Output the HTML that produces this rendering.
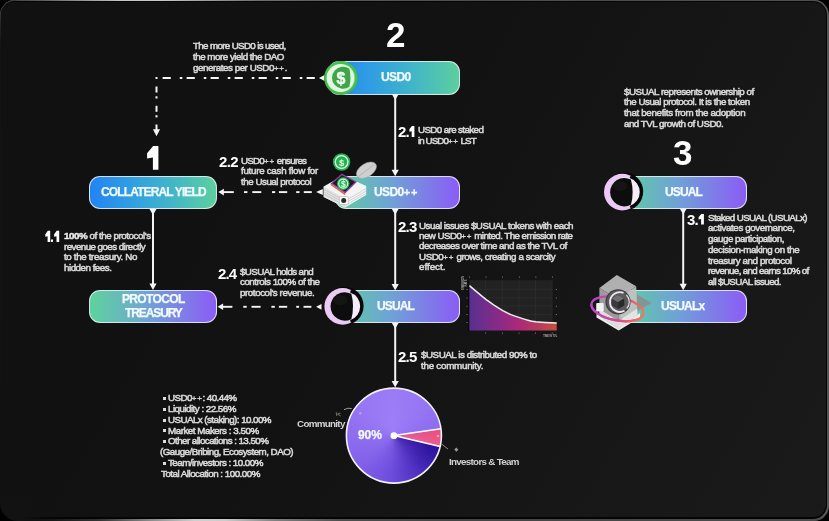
<!DOCTYPE html>
<html><head><meta charset="utf-8">
<style>
*{margin:0;padding:0;box-sizing:border-box}
html,body{width:829px;height:521px;background:#000;overflow:hidden}
body{position:relative;font-family:"Liberation Sans",sans-serif}
#rim{position:absolute;left:0;top:0;width:829px;height:521px;border-radius:15px;overflow:hidden;background:#555}
#rim .a{position:absolute;left:0;top:0;width:830px;height:4px;background:linear-gradient(90deg,#3a3a3a 0px,#5a5a5a 40px,#9a9a9a 85px,#c4c4c4 120px,#cacaca 160px,#a0a0a0 205px,#6e6e6e 260px,#585858 340px,#4e4e4e 500px,#505050 829px)}
#rim .b{position:absolute;left:0;bottom:0;width:830px;height:4px;background:linear-gradient(90deg,#0a0a0a 0px,#161616 50px,#343434 100px,#8a8a8a 150px,#cfcfcf 195px,#cccccc 225px,#808080 275px,#4e4e4e 340px,#444 450px,#4c4c4c 829px)}
#rim .l{position:absolute;left:0;top:0;width:16px;height:521px;background:linear-gradient(180deg,#3c3c3c 0px,#383838 12px,#262626 24px,#141414 45px,#121212 100%)}
#dark{position:absolute;left:0.7px;top:1.4px;width:826.2px;height:517.3px;border-radius:14px;background:#050505}
#bg{position:absolute;left:1.4px;top:2.4px;width:824.2px;height:514.8px;border-radius:13px;
 background:linear-gradient(120deg,#111 0%,#121212 45%,#171717 75%,#1a1a1a 100%)}
.t{position:absolute;color:#d8d8d8;font-size:9.8px;line-height:10px;-webkit-text-stroke:0.55px #d8d8d8;white-space:nowrap;will-change:transform}
.t b{color:#fff}
.pq{font-size:11px;letter-spacing:0.9px}
.pp{font-size:8px;letter-spacing:0.7px;-webkit-text-stroke:0.35px #d8d8d8}
.bt{position:absolute;color:#f4fbff;font-size:12px;line-height:10px;font-weight:bold;-webkit-text-stroke:0.25px #f4fbff;white-space:nowrap;will-change:transform}
.tb{position:absolute;color:#d2d2d2;font-size:9.8px;line-height:10px;font-weight:bold;white-space:nowrap;will-change:transform}
.bul{position:absolute;width:3px;height:3px;background:#dcdcdc}
.n{position:absolute;color:#fff;font-weight:bold;white-space:nowrap;will-change:transform}
.big{position:absolute;color:#fff;font-weight:bold;white-space:nowrap;will-change:transform;font-size:35px;line-height:10px}
.sn{position:absolute;color:#fff;font-weight:bold;white-space:nowrap;will-change:transform;font-size:15px;line-height:10px}
.btn{position:absolute;border-radius:11px;border:1px solid rgba(235,240,245,0.85);color:#f2f6fa;font-weight:bold;font-size:12px;text-align:center;white-space:nowrap}
.bg1{background:linear-gradient(90deg,#2284f3 0%,#2f9ce4 30%,#3fb2cc 60%,#5ccf9f 100%)}
.bg2{background:linear-gradient(90deg,#5dcfa0 0%,#6fa2d6 45%,#8b5cf6 100%)}
.bg3{background:linear-gradient(90deg,#5dd39c 0%,#70a4d4 45%,#8b5cf6 100%)}
svg{position:absolute;left:0;top:0;will-change:transform}
</style></head>
<body>
<!--NONTEXT-->
<div id="rim"><div class="a"></div><div class="b"></div><div class="l"></div></div><div id="dark"></div><div id="bg"></div><div style="position:absolute;left:0;top:500px;width:60px;height:21px;background:linear-gradient(90deg,#121212 0px,#121212 22px,rgba(18,18,18,0) 50px)"></div>

<!-- buttons -->
<div class="btn bg1" style="left:328px;top:61.2px;width:132.1px;height:33.7px"></div>
<div class="btn bg1" style="left:88.9px;top:175.6px;width:128.5px;height:33.3px"></div>
<div class="btn bg2" style="left:335px;top:175.6px;width:125.1px;height:33.3px"></div>
<div class="btn bg2" style="left:335px;top:290.2px;width:125px;height:33.3px"></div>
<div class="btn bg3" style="left:88.9px;top:290px;width:128.6px;height:33.4px"></div>
<div class="btn bg2" style="left:620px;top:175.6px;width:127.3px;height:33.3px"></div>
<div class="btn bg2" style="left:620px;top:290px;width:127.3px;height:33px"></div>


<div id="pie" style="position:absolute;left:346.4px;top:388.1px;width:95px;height:95px;border-radius:50%;
background:radial-gradient(circle at 45% 40%, rgba(170,140,255,0.25) 0%, rgba(170,140,255,0) 60%),
conic-gradient(from 0deg, #9a7bf5 0deg, #9474f3 50deg, #8c6cf0 81.7deg, #e64f80 81.7deg, #f05c8c 103.2deg, #2a109c 103.2deg, #3a1eac 125deg, #5232c2 150deg, #6e4edc 185deg, #8060e8 225deg, #8c6cef 270deg, #9676f3 320deg, #9a7bf5 360deg)"></div>
<svg width="829" height="521" viewBox="0 0 829 521">
<path d="M0 503 A18 18 0 0 0 18 521 L0 521Z" fill="#000"/>
<polygon points="158.40,146.00 158.40,169.70 152.90,169.70 152.90,157.61 147.10,158.56 147.10,153.35 150.87,148.84 153.10,146.00" fill="#fff"/>
<polygon points="414.40,125.90 414.40,136.90 411.70,136.90 411.70,131.29 409.40,131.73 409.40,129.31 410.89,127.22 411.90,125.90" fill="#fff"/>
<polygon points="703.90,213.90 703.90,224.50 701.10,224.50 701.10,219.09 698.60,219.52 698.60,217.19 700.23,215.17 701.30,213.90" fill="#fff"/>
<polygon points="50.20,230.80 50.20,241.90 47.60,241.90 47.60,236.24 45.30,236.68 45.30,234.24 46.80,232.13 47.80,230.80" fill="#fff"/>
<polygon points="59.20,230.80 59.20,241.90 56.50,241.90 56.50,236.24 54.10,236.68 54.10,234.24 55.66,232.13 56.70,230.80" fill="#fff"/>
<rect x="50.9" y="239.5" width="2.1" height="2.4" fill="#fff"/>
<polygon points="324.50,75.00 324.50,81.00 319.00,78.00" fill="#f4f4f4"/>
<rect x="155.50" y="77.00" width="2.00" height="2" fill="#f4f4f4"/>
<rect x="162.60" y="77.00" width="8.20" height="2" fill="#f4f4f4"/>
<rect x="179.80" y="77.00" width="2.50" height="2" fill="#f4f4f4"/>
<rect x="186.60" y="77.00" width="8.20" height="2" fill="#f4f4f4"/>
<rect x="203.80" y="77.00" width="2.50" height="2" fill="#f4f4f4"/>
<rect x="210.60" y="77.00" width="8.20" height="2" fill="#f4f4f4"/>
<rect x="227.80" y="77.00" width="2.50" height="2" fill="#f4f4f4"/>
<rect x="234.60" y="77.00" width="8.20" height="2" fill="#f4f4f4"/>
<rect x="251.80" y="77.00" width="2.50" height="2" fill="#f4f4f4"/>
<rect x="258.60" y="77.00" width="8.20" height="2" fill="#f4f4f4"/>
<rect x="275.80" y="77.00" width="2.50" height="2" fill="#f4f4f4"/>
<rect x="282.60" y="77.00" width="8.20" height="2" fill="#f4f4f4"/>
<rect x="299.80" y="77.00" width="2.50" height="2" fill="#f4f4f4"/>
<rect x="306.60" y="77.00" width="8.20" height="2" fill="#f4f4f4"/>
<rect x="155.50" y="86.50" width="2" height="6.00" fill="#f4f4f4"/>
<rect x="155.50" y="96.30" width="2" height="2.20" fill="#f4f4f4"/>
<rect x="155.50" y="105.80" width="2" height="6.00" fill="#f4f4f4"/>
<rect x="155.50" y="115.20" width="2" height="2.20" fill="#f4f4f4"/>
<rect x="155.50" y="124.50" width="2" height="6.00" fill="#f4f4f4"/>
<polygon points="152.90,129.20 160.10,129.20 156.50,136.20" fill="#f4f4f4"/>
<polygon points="391.70,94.00 398.70,94.00 395.20,100.00" fill="#f4f4f4"/>
<rect x="394.20" y="96.00" width="2" height="75.30" fill="#f4f4f4"/>
<polygon points="391.60,169.80 398.80,169.80 395.20,176.30" fill="#f4f4f4"/>
<polygon points="391.70,208.70 398.70,208.70 395.20,214.70" fill="#f4f4f4"/>
<rect x="394.20" y="210.70" width="2" height="74.70" fill="#f4f4f4"/>
<polygon points="391.60,283.90 398.80,283.90 395.20,290.40" fill="#f4f4f4"/>
<polygon points="391.70,322.80 398.70,322.80 395.20,328.80" fill="#f4f4f4"/>
<rect x="394.20" y="324.80" width="2" height="57.60" fill="#f4f4f4"/>
<polygon points="391.60,380.90 398.80,380.90 395.20,387.40" fill="#f4f4f4"/>
<polygon points="149.50,209.00 156.50,209.00 153.00,215.00" fill="#f4f4f4"/>
<rect x="152.00" y="211.00" width="2" height="74.00" fill="#f4f4f4"/>
<polygon points="149.40,283.50 156.60,283.50 153.00,290.00" fill="#f4f4f4"/>
<polygon points="679.70,208.60 686.70,208.60 683.20,214.60" fill="#f4f4f4"/>
<rect x="682.20" y="210.60" width="2" height="74.60" fill="#f4f4f4"/>
<polygon points="679.60,283.70 686.80,283.70 683.20,290.20" fill="#f4f4f4"/>
<polygon points="223.90,188.80 223.90,195.40 218.30,192.10" fill="#f4f4f4"/>
<rect x="223.00" y="191.15" width="10.80" height="1.9" fill="#f4f4f4"/>
<rect x="244.00" y="191.15" width="3.40" height="1.9" fill="#f4f4f4"/>
<rect x="252.30" y="191.15" width="9.00" height="1.9" fill="#f4f4f4"/>
<rect x="272.00" y="191.15" width="3.20" height="1.9" fill="#f4f4f4"/>
<rect x="278.90" y="191.15" width="8.30" height="1.9" fill="#f4f4f4"/>
<rect x="296.20" y="191.15" width="3.30" height="1.9" fill="#f4f4f4"/>
<rect x="303.80" y="191.15" width="8.00" height="1.9" fill="#f4f4f4"/>
<polygon points="322.80,189.10 322.80,195.10 316.10,192.10" fill="#f4f4f4"/>
<polygon points="223.10,303.50 223.10,310.10 217.50,306.80" fill="#f4f4f4"/>
<rect x="222.50" y="305.85" width="9.90" height="1.9" fill="#f4f4f4"/>
<rect x="243.30" y="305.85" width="3.40" height="1.9" fill="#f4f4f4"/>
<rect x="251.50" y="305.85" width="9.10" height="1.9" fill="#f4f4f4"/>
<rect x="271.40" y="305.85" width="3.40" height="1.9" fill="#f4f4f4"/>
<rect x="278.90" y="305.85" width="8.30" height="1.9" fill="#f4f4f4"/>
<rect x="296.20" y="305.85" width="2.90" height="1.9" fill="#f4f4f4"/>
<rect x="303.50" y="305.85" width="7.90" height="1.9" fill="#f4f4f4"/>
<polygon points="321.50,303.90 321.50,309.70 316.10,306.80" fill="#f4f4f4"/>
<!-- pie overlay -->
<circle cx="393.9" cy="435.6" r="47.5" fill="none" stroke="#f4f0ff" stroke-width="1.6"/>
<path d="M393.9 435.6 L441 428.7 M393.9 435.6 L440.1 446.4" stroke="#fff" stroke-width="1.5"/>
<circle cx="393.9" cy="435.7" r="3.4" fill="#fff"/>
<circle cx="360.2" cy="413.3" r="1.2" fill="#b9a8e0"/>
<circle cx="438" cy="436" r="1.3" fill="#f0a0b8"/>
<path d="M344 409.7 Q348 407.3 351.7 408.6" stroke="#aaa" stroke-width="0.9" fill="none"/>
<path d="M336.2 412.3 L336.8 416 M337.5 414 L340.5 413 M337.5 414 L340.7 416" stroke="#999" stroke-width="0.7" fill="none"/>
<path d="M441.5 444 L448 449" stroke="#999" stroke-width="0.9"/>
<path d="M454.3 449.5 L456.3 447.6 L458.3 449.7 L456.3 451.8 Z" fill="#999"/>

<!-- USD0 coin -->
<circle cx="341" cy="78" r="16.9" fill="#3cb54a"/>
<circle cx="341" cy="77.6" r="16.2" fill="#47c053"/>
<circle cx="340.7" cy="78" r="14.1" fill="#e2f6e0"/>
<path d="M349.6 66.9 A13.9 13.9 0 0 1 349.6 89.1 A16 16 0 0 0 349.6 66.9Z" fill="#5fcb68" opacity="0.45"/>
<path d="M349.4 68.7 A11.05 11.05 0 1 0 349.4 86.8 A40 40 0 0 0 349.4 68.7Z" fill="#3ca649"/>
<text x="341" y="84" font-family="Liberation Sans" font-weight="bold" font-size="16" fill="#f4fff4" stroke="#f4fff4" stroke-width="0.4" text-anchor="middle">$</text>

<circle cx="624.00" cy="191.60" r="19.2" fill="#070707"/>
<circle cx="622.30" cy="192.10" r="18.3" fill="#eccaf6"/>
<circle cx="625.20" cy="192.00" r="14.4" fill="#f6edfa"/>
<path d="M630.11,176.88 A15.9 15.9 0 0 1 630.11,207.12" fill="none" stroke="#070707" stroke-width="2.6"/>
<path d="M630.90,179.47 A14.25 14.25 0 1 0 630.90,204.83 A47.6 47.6 0 0 0 630.90,179.47Z" fill="#0d0d0d"/>
<ellipse cx="620.00" cy="186.00" rx="7" ry="5" fill="#262626" opacity="0.35"/><circle cx="344.40" cy="305.90" r="19.2" fill="#070707"/>
<circle cx="342.70" cy="306.40" r="18.3" fill="#eccaf6"/>
<circle cx="345.60" cy="306.30" r="14.4" fill="#f6edfa"/>
<path d="M350.51,291.18 A15.9 15.9 0 0 1 350.51,321.42" fill="none" stroke="#070707" stroke-width="2.6"/>
<path d="M351.30,293.77 A14.25 14.25 0 1 0 351.30,319.13 A47.6 47.6 0 0 0 351.30,293.77Z" fill="#0d0d0d"/>
<ellipse cx="340.40" cy="300.30" rx="7" ry="5" fill="#262626" opacity="0.35"/>

<!-- USD0++ vault icon -->
<ellipse cx="366.4" cy="170.2" rx="11.2" ry="6.6" transform="rotate(-33 366.4 170.2)" fill="#cfcfcf" stroke="#9a9a9a" stroke-width="0.5"/>
<path d="M359 176.2 L373.8 164.6" stroke="#a0a0a0" stroke-width="0.6"/>
<polygon points="323.7,186.5 343,175.5 366.2,186 366.2,195 345,207.5 323.7,197" fill="#f4f4f4"/>
<polygon points="323.7,186.5 345,198.5 345,207.5 323.7,197" fill="#e2e2e2"/>
<g stroke="#a8a8a8" stroke-width="0.45" fill="none">
<path d="M323.7 189 L345 201 M323.7 191.5 L345 203.3 M323.7 194 L345 205.5 M345 201 L366.2 188.5 M345 203.3 L366.2 191 M345 205.5 L366.2 193.3"/>
</g>
<polygon points="330.6,183.4 341.8,173.4 357,181.8 345.2,193.6" fill="#8f3e9e"/>
<polygon points="330.6,183.4 345.2,193.6 345.2,195.2 330.6,185" fill="#d8604e"/>
<polygon points="332.6,183.3 341.9,175.2 354.9,181.9 345.1,191.6" fill="#1c1c1c"/>
<circle cx="343.2" cy="183.6" r="6.3" fill="#22b556"/>
<circle cx="343.2" cy="183.6" r="4.5" fill="none" stroke="#d9f6df" stroke-width="1.1"/>
<text x="343.3" y="186.8" font-family="Liberation Sans" font-weight="bold" font-size="8.5" fill="#e8fbe9" text-anchor="middle">$</text>
<rect x="339.3" y="196.8" width="8.8" height="7.6" fill="#fbfbfb" stroke="#b0b0b0" stroke-width="0.5"/>
<circle cx="343.7" cy="200.6" r="2.5" fill="#2a2a2a"/>
<circle cx="341.6" cy="162" r="8.7" fill="#22b24f"/>
<circle cx="341.6" cy="162" r="6.3" fill="none" stroke="#dff7e4" stroke-width="1.3"/>
<text x="341.7" y="165.6" font-family="Liberation Sans" font-weight="bold" font-size="9.5" fill="#e8fbe9" text-anchor="middle">$</text>

<!-- USUALx cube icon -->
<defs><linearGradient id="rg" x1="591" y1="0" x2="645" y2="0" gradientUnits="userSpaceOnUse"><stop offset="0" stop-color="#b845c8"/><stop offset="0.5" stop-color="#d2478f"/><stop offset="1" stop-color="#f27a52"/></linearGradient>
<clipPath id="ringfront"><rect x="585" y="309" width="70" height="30"/></clipPath></defs>
<polygon points="636.8,294.3 651.8,303.1 636.8,311.2" fill="#8c8c8c" opacity="0.8"/>
<polygon points="596.5,313 618.7,326 640,313 640,317.5 618.7,330.5 596.5,317.5" fill="#ececec"/>
<polygon points="599.4,288.1 618,299.3 618.7,328.7 599.4,316" fill="#9c9c9c"/>
<polygon points="618,299.3 636.2,286.2 637.4,314.5 618.7,328.7" fill="#c2c2c2" opacity="0.92"/>
<polygon points="616.8,275 636.2,286.2 618,299.3 599.4,288.1" fill="#b0b0b0"/>
<polygon points="599.4,309 618.4,321 637.2,308.5 637.4,314.5 618.7,328.7 599.4,316" fill="#e6e6e6" opacity="0.9"/>
<ellipse cx="617.4" cy="308.8" rx="26.4" ry="11.6" transform="rotate(11 617.4 308.8)" fill="none" stroke="url(#rg)" stroke-width="2.2"/>
<circle cx="618" cy="301.8" r="12.6" fill="#3e3e3e"/>
<circle cx="618" cy="301.8" r="11.3" fill="#5a5a5a"/>
<path d="M623.5 292.8 A9.9 9.9 0 1 0 624.5 310.8" fill="none" stroke="#f2e4f8" stroke-width="1.8"/>
<path d="M626.5 295 A9.9 9.9 0 0 1 626.8 308.5" fill="none" stroke="#e8d8ef" stroke-width="1.2"/>
<polygon points="618,295 624.2,298.6 624.2,305.4 618,309 611.8,305.4 611.8,298.6" fill="#3a3a3a"/>
<polygon points="618,295 624.2,298.6 618,302.2 611.8,298.6" fill="#707070"/>
<polygon points="618,302.2 624.2,298.6 624.2,305.4 618,309" fill="#2a2a2a"/>
<ellipse cx="617.4" cy="308.8" rx="26.4" ry="11.6" transform="rotate(11 617.4 308.8)" fill="none" stroke="url(#rg)" stroke-width="2.2" clip-path="url(#ringfront)"/>
<rect x="596.2" y="303" width="7.5" height="8.5" rx="1" fill="#f2f2f2"/>

<defs>
<linearGradient id="cg" x1="469" y1="0" x2="557" y2="0" gradientUnits="userSpaceOnUse">
<stop offset="0" stop-color="#57308f"/><stop offset="0.35" stop-color="#8b2a86"/><stop offset="0.58" stop-color="#ad2a76"/><stop offset="0.8" stop-color="#b83c5c"/><stop offset="1" stop-color="#c6503c"/>
</linearGradient>
</defs>
<rect x="469.4" y="280.2" width="82.8" height="50.2" fill="#222"/>
<g stroke="#303030" stroke-width="0.6">
<path d="M485.6 280V330 M502.2 280V330 M518.9 280V330 M535.5 280V330 M552.1 280V330"/>
<path d="M469 289.2H552 M469 297.8H552 M469 305.8H552 M469 314.4H552 M469 322.4H552"/>
</g>
<path d="M469.4 285.6 C470.6 286.6,473.8 289.4,476.5 291.6 C479.2 293.9,482.8 296.9,485.6 299.1 C488.5 301.2,490.7 302.9,493.6 304.9 C496.5 306.8,499.9 308.9,502.8 310.6 C505.7 312.2,508.1 313.4,510.8 314.6 C513.5 315.7,516.0 316.5,518.9 317.4 C521.8 318.4,525.1 319.5,528.0 320.2 C530.9 321.0,533.1 321.4,536.0 321.8 C538.9 322.1,541.8 322.4,545.2 322.6 C548.7 322.8,554.8 322.9,556.7 322.9 L556.7 330.4 L469.4 330.4 Z" fill="url(#cg)"/>
<path d="M469.4 285.6 C470.6 286.6,473.8 289.4,476.5 291.6 C479.2 293.9,482.8 296.9,485.6 299.1 C488.5 301.2,490.7 302.9,493.6 304.9 C496.5 306.8,499.9 308.9,502.8 310.6 C505.7 312.2,508.1 313.4,510.8 314.6 C513.5 315.7,516.0 316.5,518.9 317.4 C521.8 318.4,525.1 319.5,528.0 320.2 C530.9 321.0,533.1 321.4,536.0 321.8 C538.9 322.1,541.8 322.4,545.2 322.6 C548.7 322.8,554.8 322.9,556.7 322.9" fill="none" stroke="#f2eef0" stroke-width="1.5"/>
<rect x="467.6" y="280" width="1.5" height="51" fill="#0c0c0c"/>
<g fill="#888">
<rect x="469" y="276.5" width="0.8" height="1.2"/><rect x="485.6" y="276.5" width="0.8" height="1.2"/><rect x="502.2" y="276.5" width="0.8" height="1.2"/><rect x="518.9" y="276.5" width="0.8" height="1.2"/><rect x="535.5" y="276.5" width="0.8" height="1.2"/><rect x="552.1" y="276.5" width="0.8" height="1.2"/>
<rect x="485.3" y="332.5" width="0.8" height="1.2"/><rect x="502" y="332.5" width="0.8" height="1.2"/><rect x="518.6" y="332.5" width="0.8" height="1.2"/><rect x="535.2" y="332.5" width="0.8" height="1.2"/><rect x="551.8" y="332.5" width="0.8" height="1.2"/>
<rect x="555.8" y="289" width="1.2" height="0.8"/><rect x="555.8" y="297.6" width="1.2" height="0.8"/><rect x="555.8" y="305.8" width="1.2" height="0.8"/><rect x="555.8" y="314.2" width="1.2" height="0.8"/>
<rect x="466.5" y="289" width="1.2" height="0.8"/><rect x="466.5" y="297.6" width="1.2" height="0.8"/><rect x="466.5" y="305.8" width="1.2" height="0.8"/><rect x="466.5" y="314.2" width="1.2" height="0.8"/><rect x="466.5" y="322.2" width="1.2" height="0.8"/>
</g>
<g fill="#b0b0b0" font-family="Liberation Sans" font-weight="bold">
<text x="0" y="0" font-size="3.3" transform="translate(464.2 290) rotate(-90)" textLength="14" lengthAdjust="spacingAndGlyphs">EMISSION</text>
<text x="0" y="0" font-size="3.3" transform="translate(467.4 286.5) rotate(-90)" textLength="7" lengthAdjust="spacingAndGlyphs">RATE</text>
<text x="543.2" y="336.9" font-size="3.4" textLength="14" lengthAdjust="spacingAndGlyphs">TIME IN TVL</text>
</g>

</svg>
<!--/NONTEXT-->
<div class="t" style="left:193.00px;top:41.10px;letter-spacing:-0.667px">The more USD0 is used,</div>
<div class="t" style="left:193.00px;top:51.90px;letter-spacing:-0.493px">the more yield the DAO</div>
<div class="t" style="left:193.00px;top:62.70px;letter-spacing:-0.465px">generates per USD0<span class="pp">++</span>.</div>
<div class="t" style="left:417.50px;top:125.30px;letter-spacing:-0.626px">USD0 are staked</div>
<div class="t" style="left:417.50px;top:135.50px;letter-spacing:-0.926px">in USD0<span class="pp">++</span> LST</div>
<div class="t" style="left:241.00px;top:155.70px;letter-spacing:-0.773px">USD0<span class="pp">++</span> ensures</div>
<div class="t" style="left:241.00px;top:166.10px;letter-spacing:-0.289px">future cash flow for</div>
<div class="t" style="left:241.00px;top:176.50px;letter-spacing:-0.484px">the Usual protocol</div>
<div class="t" style="left:418.60px;top:220.60px;letter-spacing:-0.490px">Usual issues $USUAL tokens with each</div>
<div class="t" style="left:418.50px;top:231.00px;letter-spacing:-0.570px">new USD0<span class="pp">++</span> minted. The emission rate</div>
<div class="t" style="left:418.50px;top:241.40px;letter-spacing:-0.542px">decreases over time and as the TVL of</div>
<div class="t" style="left:418.50px;top:251.80px;letter-spacing:-0.446px">USD0<span class="pp">++</span> grows, creating a scarcity</div>
<div class="t" style="left:418.50px;top:262.20px;letter-spacing:-0.015px">effect.</div>
<div class="t" style="left:63.50px;top:230.90px;letter-spacing:-0.457px"><b>100%</b> of the protocol's</div>
<div class="t" style="left:63.50px;top:241.53px;letter-spacing:-0.570px">revenue goes directly</div>
<div class="t" style="left:63.50px;top:252.16px;letter-spacing:-0.356px">to the treasury. No</div>
<div class="t" style="left:63.50px;top:262.79px;letter-spacing:-0.500px">hidden fees.</div>
<div class="t" style="left:240.00px;top:266.70px;letter-spacing:-0.617px">$USUAL holds and</div>
<div class="t" style="left:240.00px;top:277.20px;letter-spacing:-0.488px">controls 100% of the</div>
<div class="t" style="left:240.00px;top:287.70px;letter-spacing:-0.434px">protocol's revenue.</div>
<div class="t" style="left:420.50px;top:350.40px;letter-spacing:-0.463px">$USUAL is distributed 90% to</div>
<div class="t" style="left:420.50px;top:360.70px;letter-spacing:-0.255px">the community.</div>
<div class="t" style="left:623.50px;top:86.50px;letter-spacing:-0.514px">$USUAL represents ownership of</div>
<div class="t" style="left:623.50px;top:97.37px;letter-spacing:-0.487px">the Usual protocol. It is the token</div>
<div class="t" style="left:623.50px;top:108.24px;letter-spacing:-0.359px">that benefits from the adoption</div>
<div class="t" style="left:623.50px;top:119.11px;letter-spacing:-0.522px">and TVL growth of USD0.</div>
<div class="t" style="left:708.00px;top:212.60px;letter-spacing:-0.640px">Staked USUAL (USUALx)</div>
<div class="t" style="left:708.00px;top:223.33px;letter-spacing:-0.420px">activates governance,</div>
<div class="t" style="left:708.00px;top:234.06px;letter-spacing:-0.477px">gauge participation,</div>
<div class="t" style="left:708.00px;top:244.79px;letter-spacing:-0.431px">decision-making on the</div>
<div class="t" style="left:708.00px;top:255.52px;letter-spacing:-0.400px">treasury and protocol</div>
<div class="t" style="left:708.00px;top:266.25px;letter-spacing:-0.682px">revenue, and earns 10% of</div>
<div class="t" style="left:708.00px;top:276.98px;letter-spacing:-0.618px">all $USUAL issued.</div>
<div class="t" style="left:168.00px;top:393.10px;letter-spacing:-0.590px">USD0<span class="pp">++</span>: 40.44%</div>
<div class="bul" style="left:162.5px;top:397.00px"></div>
<div class="t" style="left:168.00px;top:403.90px;letter-spacing:-0.529px">Liquidity : 22.56%</div>
<div class="bul" style="left:162.5px;top:407.80px"></div>
<div class="t" style="left:168.00px;top:414.70px;letter-spacing:-0.565px">USUALx (staking): 10.00%</div>
<div class="bul" style="left:162.5px;top:418.60px"></div>
<div class="t" style="left:168.00px;top:425.50px;letter-spacing:-0.480px">Market Makers : 3.50%</div>
<div class="bul" style="left:162.5px;top:429.40px"></div>
<div class="t" style="left:168.00px;top:436.30px;letter-spacing:-0.560px">Other allocations : 13.50%</div>
<div class="bul" style="left:162.5px;top:440.20px"></div>
<div class="t" style="left:160.00px;top:447.10px;letter-spacing:-0.522px">(Gauge/Bribing, Ecosystem, DAO)</div>
<div class="t" style="left:168.00px;top:457.90px;letter-spacing:-0.541px">Team/investors : 10.00%</div>
<div class="bul" style="left:162.5px;top:461.80px"></div>
<div class="t" style="left:161.00px;top:468.70px;letter-spacing:-0.512px">Total Allocation : 100.00%</div>
<div class="tb" style="left:296.60px;top:418.80px;letter-spacing:-0.688px">Community</div>
<div class="tb" style="left:448.90px;top:457.10px;letter-spacing:-0.702px">Investors &amp; Team</div>
<div class="bt" style="left:381.00px;top:72.40px;letter-spacing:-0.600px">USD0</div>
<div class="bt" style="left:100.50px;top:187.10px;letter-spacing:-0.870px">COLLATERAL YIELD</div>
<div class="bt" style="left:374.00px;top:187.00px;letter-spacing:-0.600px">USD0<span class="pq">++</span></div>
<div class="bt" style="left:376.80px;top:301.20px;letter-spacing:-0.850px">USUAL</div>
<div class="bt" style="left:122.00px;top:294.20px;letter-spacing:-0.650px">PROTOCOL</div>
<div class="bt" style="left:124.50px;top:308.10px;letter-spacing:-1.100px">TREASURY</div>
<div class="bt" style="left:664.80px;top:187.00px;letter-spacing:-0.850px">USUAL</div>
<div class="bt" style="left:660.80px;top:301.30px;letter-spacing:-0.750px">USUALx</div>
<div class="bt" style="left:357.50px;top:430.40px;letter-spacing:-0.100px">90%</div>
<div class="sn" style="left:398.30px;top:127.20px;letter-spacing:-0.900px">2.</div>
<div class="sn" style="left:219.20px;top:157.20px;letter-spacing:-0.600px">2.2</div>
<div class="sn" style="left:398.30px;top:221.80px;letter-spacing:-0.750px">2.3</div>
<div class="sn" style="left:218.40px;top:268.80px;letter-spacing:-0.850px">2.4</div>
<div class="sn" style="left:398.20px;top:352.20px;letter-spacing:-0.800px">2.5</div>
<div class="sn" style="left:687.00px;top:214.80px;letter-spacing:-0.900px">3.</div>
<div class="big" style="left:385.50px;top:29.60px;letter-spacing:0.000px">2</div>
<div class="big" style="left:673.20px;top:148.40px;letter-spacing:0.000px">3</div>
</body></html>
